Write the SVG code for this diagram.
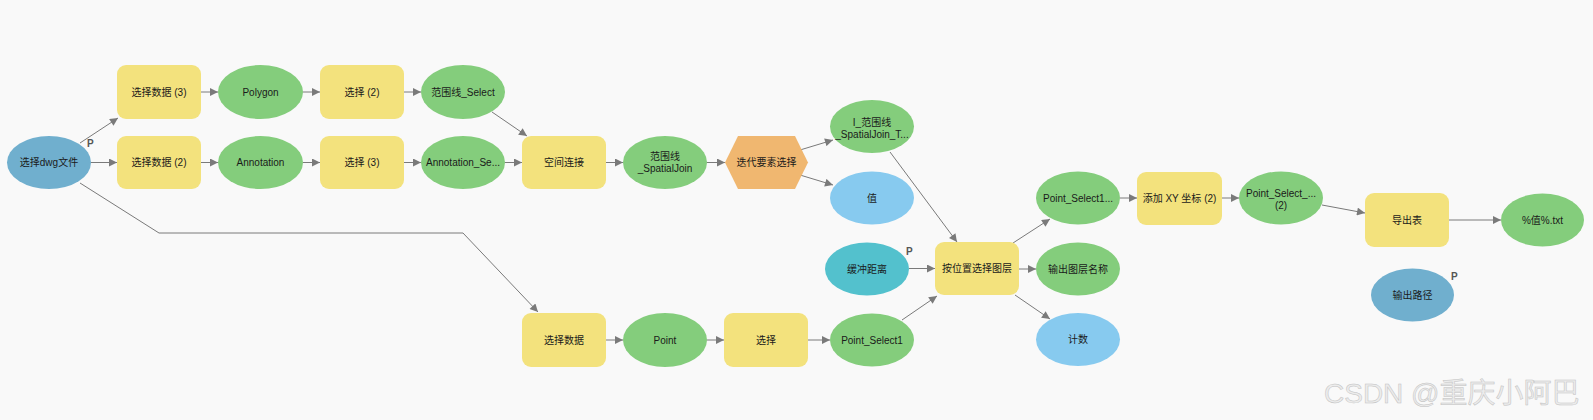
<svg xmlns="http://www.w3.org/2000/svg" width="1593" height="420" viewBox="0 0 1593 420">
<defs>
<marker id="arr" viewBox="0 0 10 10" refX="10" refY="5" markerWidth="9" markerHeight="8" markerUnits="userSpaceOnUse" orient="auto">
<path d="M0,0 L10,5 L0,10 z" fill="#7a7a7a"/>
</marker>
<style>
.t{font-family:"Liberation Sans","Noto Sans CJK SC",sans-serif;font-size:10px;fill:#1a1a1a;text-anchor:middle}
.p{font-family:"Liberation Sans","Noto Sans CJK SC",sans-serif;font-size:10px;font-weight:bold;fill:#555}
.box{fill:#F3E27D}
.dat{fill:#84CD7C}
.inp{fill:#70AFCE}
.val{fill:#87CAEF}
.tea{fill:#53C1CD}
.hex{fill:#F0B770}
.e{fill:none;stroke:#7a7a7a;stroke-width:1;marker-end:url(#arr)}
.wm{font-family:"Liberation Sans","Noto Sans CJK SC",sans-serif;font-size:28px;fill:#ececec;stroke:#c2c2c2;stroke-width:0.5}
</style>
</defs>
<rect width="1593" height="420" fill="#F9F9F9"/>
<g id="connectors">
<line class="e" x1="80" y1="143" x2="118" y2="118"/>
<line class="e" x1="91" y1="162.5" x2="117" y2="162.5"/>
<polyline class="e" points="80,183 159,233 463,233 538,312"/>
<line class="e" x1="201" y1="92" x2="218" y2="92"/>
<line class="e" x1="303" y1="92" x2="320" y2="92"/>
<line class="e" x1="404" y1="92" x2="421" y2="92"/>
<line class="e" x1="201" y1="162.5" x2="218" y2="162.5"/>
<line class="e" x1="303" y1="162.5" x2="320" y2="162.5"/>
<line class="e" x1="404" y1="162.5" x2="421" y2="162.5"/>
<line class="e" x1="492" y1="112" x2="527" y2="136"/>
<line class="e" x1="505" y1="162.5" x2="522" y2="162.5"/>
<line class="e" x1="606" y1="162.5" x2="623" y2="162.5"/>
<line class="e" x1="707" y1="162.5" x2="725" y2="162.5"/>
<line class="e" x1="800" y1="150" x2="833" y2="140"/>
<line class="e" x1="800" y1="175" x2="833" y2="185"/>
<line class="e" x1="890" y1="152" x2="957" y2="242"/>
<line class="e" x1="909" y1="268.5" x2="935" y2="268.5"/>
<line class="e" x1="902" y1="320" x2="937" y2="296"/>
<line class="e" x1="1013" y1="243" x2="1050" y2="219"/>
<line class="e" x1="1019" y1="269" x2="1036" y2="269"/>
<line class="e" x1="1015" y1="295" x2="1050" y2="319"/>
<line class="e" x1="1120" y1="198" x2="1137" y2="198"/>
<line class="e" x1="1222" y1="198" x2="1239" y2="198"/>
<line class="e" x1="1322" y1="205" x2="1365" y2="213"/>
<line class="e" x1="1449" y1="220" x2="1501" y2="220"/>
<line class="e" x1="606" y1="340" x2="623" y2="340"/>
<line class="e" x1="707" y1="340" x2="724" y2="340"/>
<line class="e" x1="808" y1="340" x2="830" y2="340"/>
</g>
<g id="n_dwg"><ellipse class="inp" cx="49" cy="162.5" rx="42" ry="26.5"/><text class="t" x="49" y="166">选择dwg文件</text><text class="p" x="87" y="147">P</text></g>
<g id="n_sel3"><rect class="box" x="117" y="65" width="84" height="54" rx="9"/><text class="t" x="159" y="95.5">选择数据 (3)</text></g>
<g id="n_sel2"><rect class="box" x="117" y="136" width="84" height="53" rx="9"/><text class="t" x="159" y="166">选择数据 (2)</text></g>
<g id="n_polygon"><ellipse class="dat" cx="260.5" cy="92" rx="42.5" ry="27"/><text class="t" x="260.5" y="95.5">Polygon</text></g>
<g id="n_annotation"><ellipse class="dat" cx="260.5" cy="162.5" rx="42.5" ry="26.5"/><text class="t" x="260.5" y="166">Annotation</text></g>
<g id="n_xz2"><rect class="box" x="320" y="65" width="84" height="54" rx="9"/><text class="t" x="362" y="95.5">选择 (2)</text></g>
<g id="n_xz3"><rect class="box" x="320" y="136" width="84" height="53" rx="9"/><text class="t" x="362" y="166">选择 (3)</text></g>
<g id="n_fwx_select"><ellipse class="dat" cx="463" cy="92" rx="42" ry="27"/><text class="t" x="463" y="95.5">范围线_Select</text></g>
<g id="n_anno_se"><ellipse class="dat" cx="463" cy="162.5" rx="42" ry="26.5"/><text class="t" x="463" y="166">Annotation_Se...</text></g>
<g id="n_spatialjoin"><rect class="box" x="522" y="136" width="84" height="53" rx="9"/><text class="t" x="564" y="166">空间连接</text></g>
<g id="n_fwx_sj"><ellipse class="dat" cx="665" cy="162.5" rx="42" ry="26.5"/><text class="t" x="665" y="160">范围线</text><text class="t" x="665" y="172">_SpatialJoin</text></g>
<g id="n_iter"><polygon class="hex" points="725,162.5 738,136 795,136 808,162.5 795,189 738,189"/><text class="t" x="766.5" y="166">迭代要素选择</text></g>
<g id="n_i_fwx"><ellipse class="dat" cx="872" cy="126.5" rx="42" ry="26.5"/><text class="t" x="872" y="125.5">I_范围线</text><text class="t" x="872" y="137.5">_SpatialJoin_T...</text></g>
<g id="n_val"><ellipse class="val" cx="872" cy="198" rx="42" ry="26.5"/><text class="t" x="872" y="201.5">值</text></g>
<g id="n_buffer"><ellipse class="tea" cx="867" cy="269" rx="42" ry="26.5"/><text class="t" x="867" y="272.5">缓冲距离</text><text class="p" x="906" y="255">P</text></g>
<g id="n_selbyloc"><rect class="box" x="935" y="242" width="84" height="53" rx="9"/><text class="t" x="977" y="272">按位置选择图层</text></g>
<g id="n_ps1_dots"><ellipse class="dat" cx="1078" cy="198" rx="42" ry="26.5"/><text class="t" x="1078" y="201.5">Point_Select1...</text></g>
<g id="n_outname"><ellipse class="dat" cx="1078" cy="269" rx="42" ry="26.5"/><text class="t" x="1078" y="272.5">输出图层名称</text></g>
<g id="n_count"><ellipse class="val" cx="1078" cy="339.5" rx="42" ry="26.5"/><text class="t" x="1078" y="343">计数</text></g>
<g id="n_addxy"><rect class="box" x="1137" y="172" width="85" height="53" rx="9"/><text class="t" x="1179.5" y="201.5">添加 XY 坐标 (2)</text></g>
<g id="n_ps2"><ellipse class="dat" cx="1281" cy="198" rx="42" ry="26.5"/><text class="t" x="1281" y="196.5">Point_Select_...</text><text class="t" x="1281" y="208.5">(2)</text></g>
<g id="n_export"><rect class="box" x="1365" y="193" width="84" height="54" rx="9"/><text class="t" x="1407" y="223.5">导出表</text></g>
<g id="n_txt"><ellipse class="dat" cx="1542.5" cy="220" rx="41.5" ry="26.5"/><text class="t" x="1542.5" y="223.5">%值%.txt</text></g>
<g id="n_outpath"><ellipse class="inp" cx="1412.5" cy="295" rx="41.5" ry="26.5"/><text class="t" x="1412.5" y="298.5">输出路径</text><text class="p" x="1451" y="280">P</text></g>
<g id="n_seldata"><rect class="box" x="522" y="313" width="84" height="54" rx="9"/><text class="t" x="564" y="343.5">选择数据</text></g>
<g id="n_point"><ellipse class="dat" cx="665" cy="340" rx="42" ry="27"/><text class="t" x="665" y="343.5">Point</text></g>
<g id="n_xz"><rect class="box" x="724" y="313" width="84" height="54" rx="9"/><text class="t" x="766" y="343.5">选择</text></g>
<g id="n_ps1"><ellipse class="dat" cx="872" cy="340" rx="42" ry="26.5"/><text class="t" x="872" y="343.5">Point_Select1</text></g>
<text class="wm" x="1324" y="403">CSDN @重庆小阿巴</text>
</svg>
